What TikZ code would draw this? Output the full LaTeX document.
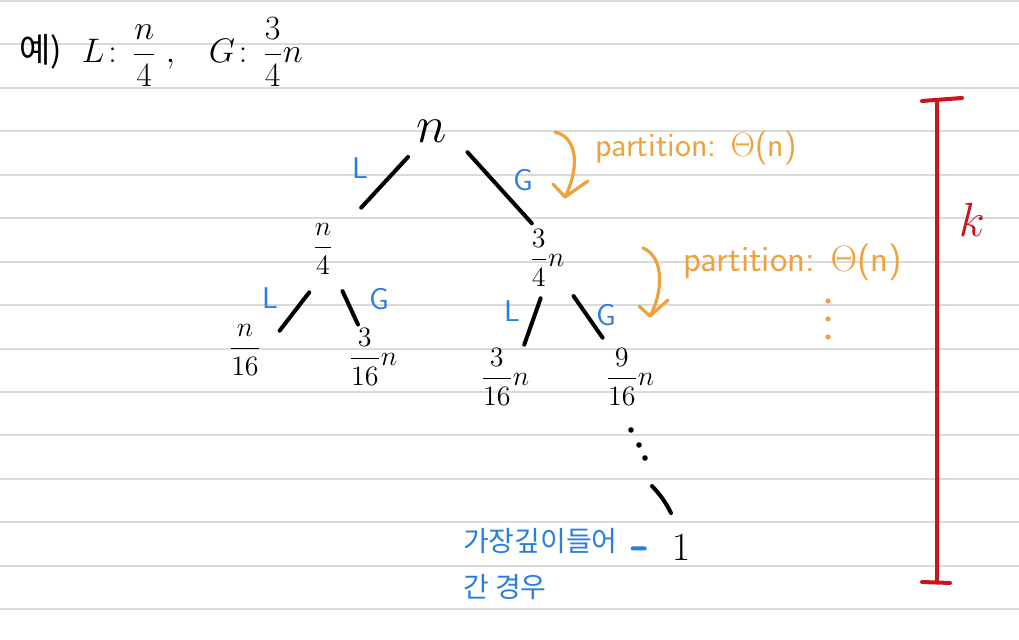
\documentclass[tikz,border=0pt]{standalone}
\usepackage{fix-cm}
\usepackage{amsmath}
\usepackage{fontspec}
\newfontfamily\cjk{Noto Sans CJK KR}
\usetikzlibrary{calc}
\definecolor{rulegray}{HTML}{DADADA}
\definecolor{inkblue}{HTML}{2A7FDC}
\definecolor{inkorange}{HTML}{EEA23C}
\definecolor{inkred}{HTML}{C9151E}

\begin{document}
\begin{tikzpicture}[x=0.5pt, y=-0.5pt,
		rule/.style={line width=1pt, color=rulegray},
		ink/.style={line width=2pt, line cap=round, line join=round},
		val/.style={font=\fontsize{14}{16}\selectfont},
		lbl/.style={text=inkblue, font=\fontsize{15}{15}\selectfont\sffamily},
		memo/.style={text=inkorange, font=\fontsize{17}{17}\selectfont\sffamily, anchor=west},
		orangeink/.style={ink, line width=1.6pt, color=inkorange},
		redink/.style={ink, color=inkred},
		note/.style={text=inkblue, font=\fontsize{14}{14}\selectfont\cjk, anchor=west}]
			%%%%% START %%%%%
			
			\fill[white] (0,0) rectangle (1019,640);
			\useasboundingbox (0,0) rectangle (1019,640);
			\foreach \k in {0,...,14}
				\draw[rule] (0,{1+43.45*\k}) -- (1019,{1+43.45*\k});
			
			\node[anchor=west, font=\fontsize{17}{20}\selectfont] (title) at (12,52) {{\cjk 예)}\hspace{10pt}$L\!:\,\dfrac{n}{4}\;,\hspace{14pt}G\!:\,\dfrac{3}{4}n$};
			
			\node[font=\fontsize{26}{28}\selectfont] (root) at (432,131) {$n$};
			\node[val] (l) at (323,249) {$\dfrac{n}{4}$};
			\node[val] (g) at (547,258) {$\dfrac{3}{4}n$};
			\node[val] (ll) at (245,350) {$\dfrac{n}{16}$};
			\node[val] (lg) at (373,357) {$\dfrac{3}{16}n$};
			\node[val] (gl) at (505,377) {$\dfrac{3}{16}n$};
			\node[val] (gg) at (630,377) {$\dfrac{9}{16}n$};
			\node[font=\fontsize{20}{20}\selectfont] (leaf) at (681,548) {$1$};
			
			\draw[ink] ($(root)!0.22!(l)$) -- ($(root)!0.65!(l)$);
			\draw[ink] ($(root)!0.23!(g)+(9,-8)$) -- ($(root)!0.79!(g)+(9,-8)$);
			\draw[ink] ($(l)!0.33!(ll)+(12,10)$) -- ($(l)!0.71!(ll)+(12,10)$);
			\draw[ink] ($(l)!0.39!(lg)$) -- ($(l)!0.70!(lg)$);
			\draw[ink] ($(g)!0.33!(gl)+(7.5,1)$) -- ($(g)!0.72!(gl)+(7.5,1)$);
			\draw[ink] ($(g)!0.32!(gg)$) -- ($(g)!0.67!(gg)$);
			
			\node[lbl] (L1) at (360,168) {L};
			\node[lbl] (G1) at (523,180) {G};
			\node[lbl] (L2) at (270,298) {L};
			\node[lbl] (G2) at (379,299) {G};
			\node[lbl] (L3) at (512,311) {L};
			\node[lbl] (G3) at (606,315) {G};
			
			% down to the deepest leaf
			\foreach \dx/\dy in {1/53, 9/68, 15/81}
				\fill ($(gg)+(\dx,\dy)$) circle (1.4pt);
			\draw[ink] ($(leaf)+(-29,-62)$) to[bend left=8] ($(leaf)+(-10,-35)$);
			
			\node[note] (note1) at (456,541) {가장깊이들어};
			\node[note] (note2) at (456,587) {간 경우};
			\draw[ink, color=inkblue] ($(note1.east)!0.2!(leaf.west)+(0,6)$) -- ($(note1.east)!0.5!(leaf.west)+(0,4)$);
			
			\node[memo] (p1) at (588,148) {partition: $\Theta$(n)};
			\draw[orangeink] (555,132) .. controls (580,138) and (578,172) .. (565,197);
			\draw[orangeink] (553,184) -- (565,197) -- (588,181);
			\node[memo, font=\fontsize{18.5}{18}\selectfont\sffamily] (p2) at (676,262) {partition: $\Theta$(n)};
			\draw[orangeink] (643,248) .. controls (666,258) and (662,295) .. (650,316);
			\draw[orangeink] (639,306) -- (650,316) -- (668,300);
			\foreach \y in {301,319,337}
				\fill[inkorange] (828,\y) circle (1.3pt);
			
			\coordinate (ktop) at (937,100);
			\coordinate (kbot) at (937,582);
			\draw[redink] (ktop) -- (kbot);
			\draw[redink] ($(ktop)+(-15,1)$) -- ($(ktop)+(25,-2)$);
			\draw[redink] ($(kbot)+(-15,0)$) -- ($(kbot)+(13,1)$);
			\node[text=inkred, font=\fontsize{24}{24}\selectfont] (k) at (972,220) {$k$};
			
			%%%%% END %%%%%
\end{tikzpicture}
\end{document}
